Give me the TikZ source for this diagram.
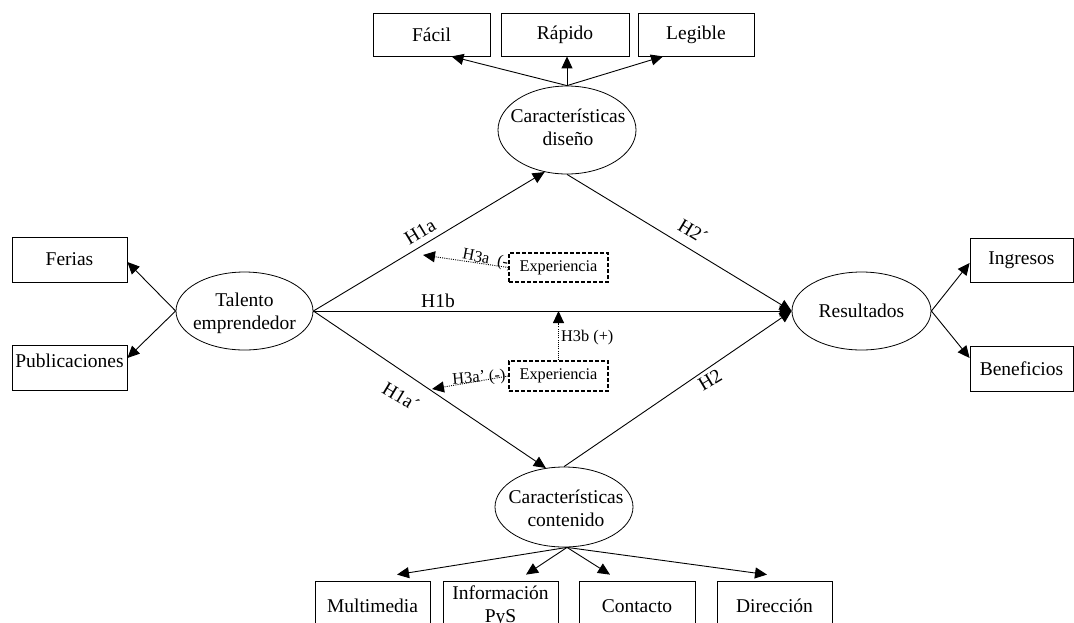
\documentclass[tikz,border=0pt]{standalone}
\usepackage{fontspec}
\setmainfont{Liberation Serif}
\usetikzlibrary{arrows.meta,shapes.geometric}
\begin{document}
\begin{tikzpicture}[x=1pt,y=-1pt,
  every node/.style={font=\fontsize{19.5}{23}\selectfont},
  box/.style={draw, line width=0.8pt, inner sep=0pt, align=center},
  ell/.style={draw, ellipse, line width=0.8pt, inner sep=0pt},
  txt/.style={align=center, inner sep=0pt},
  small/.style={font=\fontsize{16.3}{19}\selectfont, inner sep=0pt},
  arr/.style={line width=0.9pt, -{Triangle[length=12pt,width=11pt]}},
  darr/.style={line width=0.9pt, dash pattern=on 1pt off 1.2pt, -{Triangle[length=12pt,width=11pt]}},
  dbox/.style={draw, line width=1.2pt, dash pattern=on 4pt off 2pt, fill=white, minimum width=99pt, inner sep=0pt, font=\fontsize{16.3}{19}\selectfont}
]
\useasboundingbox (0,0) rectangle (1074,622);
\clip (0,0) rectangle (1074,622);

% indicator boxes
\node[box, minimum width=117pt, minimum height=43pt] (fac) at (431.5,34.5) {Fácil};
\node[box, minimum width=128pt, minimum height=43pt] (rap) at (565,34.5) {Rápido};
\node[box, minimum width=116pt, minimum height=43pt] (leg) at (696,34.5) {Legible};
\node[box, minimum width=115pt, minimum height=45pt] (fer) at (69.5,259.5) {Ferias};
\node[box, minimum width=115pt, minimum height=45pt, text depth=14pt] (pub) at (69.5,367.5) {Publicaciones};
\node[box, minimum width=103pt, minimum height=44pt] (ing) at (1021.5,260) {Ingresos};
\node[box, minimum width=103pt, minimum height=45pt] (ben) at (1021.5,368.5) {Beneficios};
\node[box, minimum width=115pt, minimum height=50pt] (mul) at (372.5,606) {Multimedia};
\node[box, minimum width=115pt, minimum height=50pt] (inf) at (500.5,606) {Información\\PyS};
\node[box, minimum width=116pt, minimum height=50pt] (cto) at (637,606) {Contacto};
\node[box, minimum width=115pt, minimum height=50pt] (dir) at (774.5,606) {Dirección};

% latent constructs
\node[ell, minimum width=138pt, minimum height=88pt] (dis) at (567,130) {};
\node[txt] (dist) at (568,127) {Características\\diseño};
\node[ell, minimum width=137pt, minimum height=78pt] (tal) at (244.5,311) {};
\node[txt] (talt) at (244.5,313) {Talento\\emprendedor};
\node[ell, minimum width=139pt, minimum height=78pt] (res) at (861.5,311) {};
\node[txt] (rest) at (861.5,311) {Resultados};
\node[ell, minimum width=138pt, minimum height=80pt] (cnt) at (564,507) {};
\node[txt] (cntt) at (566,508) {Características\\contenido};

% measurement arrows
\draw[arr] (dis.north) -- ([xshift=20pt]fac.south);
\draw[arr] (dis.north) -- (dis.north |- rap.south);
\draw[arr] (dis.north) -- ([xshift=-33pt]leg.south);
\draw[arr] (tal.west) -- ([yshift=-2.5pt]fer.east);
\draw[arr] (tal.west) -- ([yshift=9.5pt]pub.east);
\draw[arr] (res.east) -- ([yshift=-3pt]ing.west);
\draw[arr] (res.east) -- ([yshift=10.5pt]ben.west);
\draw[arr] ([xshift=3pt]cnt.south) -- ([xshift=24.5pt,yshift=6pt]mul.north);
\draw[arr] ([xshift=3pt]cnt.south) -- ([xshift=25.5pt,yshift=6pt]inf.north);
\draw[arr] ([xshift=3pt]cnt.south) -- ([xshift=-27pt,yshift=6pt]cto.north);
\draw[arr] ([xshift=3pt]cnt.south) -- ([xshift=-7.5pt,yshift=6pt]dir.north);

% structural arrows
\draw[arr] (tal.east) -- (dis.242);
\draw[arr] (tal.east) -- (res.west);
\draw[arr] (tal.east) -- (cnt.115);
\draw[arr] (dis.south) -- (res.west);
\draw[arr] (cnt.north) -- (res.west);

% path labels
\node[inner sep=0pt, rotate=31] (h1a) at (420,232) {H1a};
\node[inner sep=0pt] (h1b) at (438,301) {H1b};
\node[inner sep=0pt, rotate=-31] (h1ap) at (401,397) {H1a´};
\node[inner sep=0pt, rotate=-31] (h2p) at (693,231) {H2´};
\node[inner sep=0pt, rotate=31] (h2) at (710,380) {H2};

% moderators
\coordinate (m1) at (423,255);
\coordinate (m2) at (432,389);
\node[small, rotate=-11] (h3a) at (488,260) {H3a\ \ (-)};
\node[small, rotate=5] (h3ap) at (479,378) {H3a’ (-)};
\node[dbox, minimum height=29pt] (e1) at (558.5,267.5) {Experiencia};
\node[dbox, minimum height=30pt] (e2) at (558.5,376) {Experiencia};
\draw[darr] (e1.west) -- (m1);
\draw[darr] (e2.west) -- (m2);
\draw[darr] (e2.north) -- (e2.north |- res.west);
\node[small, anchor=west] (h3b) at (561,338) {H3b (+)};
\end{tikzpicture}
\end{document}
